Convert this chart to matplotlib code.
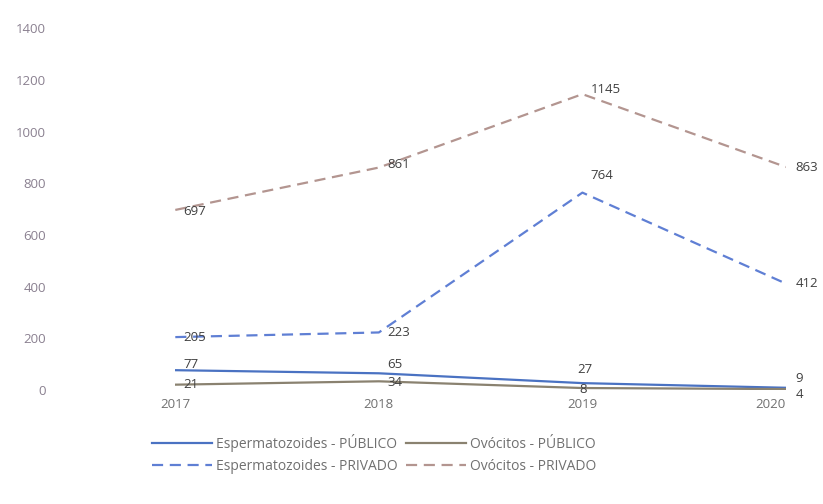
import matplotlib
matplotlib.use("Agg")
import matplotlib.pyplot as plt

years = [2017, 2018, 2019, 2020]
esperm_publico = [77, 65, 27, 9]
ovocitos_publico = [21, 34, 8, 4]
esperm_privado = [205, 223, 764, 412]
ovocitos_privado = [697, 861, 1145, 863]
y_ticks = [0, 200, 400, 600, 800, 1000, 1200, 1400]

plt.rcParams['font.family'] = ['Open Sans', 'DejaVu Sans']

fig = plt.figure(figsize=(8.23, 5.04), dpi=100)
ax = fig.add_axes([0.213, 0.226, 0.742, 0.718])

series = [
    (esperm_publico, "Espermatozoides - PÚBLICO", "#4a72c2", "-"),
    (ovocitos_publico, "Ovócitos - PÚBLICO", "#8a8270", "-"),
    (esperm_privado, "Espermatozoides - PRIVADO", "#5f7fd4", (0, (5, 3))),
    (ovocitos_privado, "Ovócitos - PRIVADO", "#b39590", (0, (5, 3))),
]
lines = {}
for vals, name, col, ls in series:
    lines[name], = ax.plot(years, vals, color=col, linestyle=ls, linewidth=1.6, label=name)

# data labels, offsets in points
offsets = {
    "Espermatozoides - PÚBLICO": [(6, 4), (6, 6), (-4, 10), (7, 7)],
    "Ovócitos - PÚBLICO": [(6, 0), (6, -1), (-2, -1), (7, -4)],
    "Espermatozoides - PRIVADO": [(6, 0), (6, 0), (6, 12), (7, 0)],
    "Ovócitos - PRIVADO": [(6, -1), (6, 2), (6, 3), (7, 0)],
}
for vals, name, col, ls in series:
    for x, v, off in zip(years, vals, offsets[name]):
        ax.annotate(str(v), (x, v), xytext=off, textcoords="offset points",
                    ha="left", va="center", fontsize=9.5, color="#404040")

ax.set_xlim(2017, 2020)
ax.set_ylim(0, 1400)
ax.set_yticks(y_ticks)
ax.set_xticks(years)
ax.set_xticklabels([str(y) for y in years])
ax.get_xticklabels()[-1].set_horizontalalignment("right")
for s in ax.spines.values():
    s.set_visible(False)
ax.tick_params(axis="y", length=0, pad=93, labelsize=9.5, labelcolor="#8a8090")
ax.tick_params(axis="x", length=0, pad=6, labelsize=9.5, labelcolor="#707070")

# column-major fill: pub/priv of each kind stacked
order = ["Espermatozoides - PÚBLICO", "Espermatozoides - PRIVADO",
         "Ovócitos - PÚBLICO", "Ovócitos - PRIVADO"]
fig.legend([lines[n] for n in order], order, loc="center",
           bbox_to_anchor=(0.455, 0.10), ncol=2, frameon=False,
           fontsize=10, handlelength=4.3, columnspacing=0.6, labelcolor="#707070",
           handletextpad=0.3)

fig.savefig("out.png", dpi=100)
